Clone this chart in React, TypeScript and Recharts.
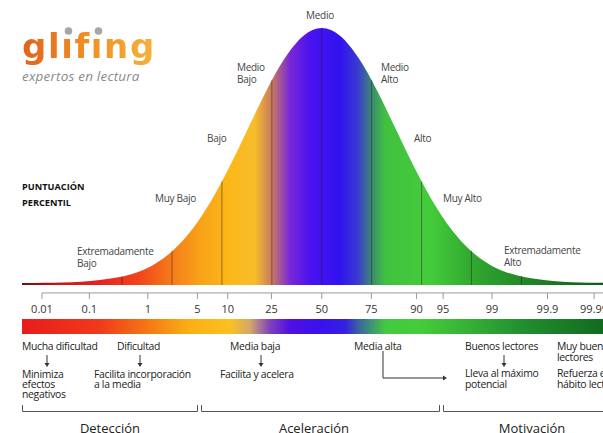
import React from 'react';
import { ComposedChart, Area, XAxis, YAxis, ReferenceLine, ReferenceArea } from 'recharts';

// Standardised score (z) positions along the curve and the curve height (% of peak)
const zValues = [-4.05, -3.75, -3.5, -3.25, -3, -2.75, -2.5, -2.25, -2, -1.75, -1.5, -1.25, -1, -0.75, -0.5, -0.25, 0, 0.25, 0.5, 0.75, 1, 1.25, 1.5, 1.75, 2, 2.25, 2.5, 2.75, 3, 3.25, 3.5, 3.75, 3.8];
const curveHeights = [0.8, 0.9, 1.0, 1.3, 1.9, 3.0, 4.9, 8.3, 13.7, 21.7, 32.5, 45.8, 60.7, 75.5, 88.2, 96.9, 100, 96.9, 88.2, 75.5, 60.7, 45.8, 32.5, 21.7, 13.7, 8.3, 4.9, 3.0, 1.9, 1.3, 1.0, 0.9, 0.85];

// Band dividers inside the curve
const bandEdges = [-2.698, -2.023, -1.349, -0.674, 0, 0.674, 1.349, 2.023, 2.698];
const bandEdgeHeights = [3.4, 13.3, 40.3, 79.7, 100, 79.7, 40.3, 13.3, 3.4];

// Percentile axis
const percentileLabels = ['0.01', '0.1', '1', '5', '10', '25', '50', '75', '90', '95', '99', '99.9', '99.99'];
const percentileTickZ = [-3.78, -3.14, -2.35, -1.68, -1.27, -0.68, 0, 0.67, 1.28, 1.64, 2.3, 3.05, 3.68];

const data = zValues.map((z, i) => ({ z, h: curveHeights[i] }));

const FONT = '"Open Sans", "DejaVu Sans", sans-serif';

const curveStops: [number, string][] = [
  [0, '#6e0e12'], [0.065, '#c41a1a'], [0.134, '#e8221e'], [0.203, '#f0461a'], [0.258, '#f57c1a'],
  [0.306, '#f8a218'], [0.358, '#fbb818'], [0.401, '#f7bc2c'], [0.43, '#c87a60'], [0.461, '#7a28d8'],
  [0.496, '#4a12f0'], [0.547, '#3212f0'], [0.578, '#3a3ad0'], [0.602, '#3a8a70'], [0.625, '#42c040'],
  [0.702, '#44cc3a'], [0.771, '#32aa30'], [0.857, '#238a28'], [1, '#0f5a1a'],
];
const barStops: [number, string][] = [
  [0, '#e81c1c'], [0.134, '#f03a1a'], [0.220, '#f57a15'], [0.289, '#fab015'], [0.358, '#fcc020'],
  [0.392, '#d4a868'], [0.427, '#8040c0'], [0.461, '#5010e0'], [0.513, '#3a10f0'], [0.556, '#3520e0'],
  [0.582, '#3a6a9a'], [0.625, '#44c840'], [0.685, '#45cc3a'], [0.771, '#35b035'], [0.857, '#229030'], [1, '#126a1f'],
];

const PercentileTick = (props: any) => {
  const { x, y, payload } = props;
  const idx = percentileTickZ.indexOf(payload.value);
  return (
    <g>
      <line x1={x} x2={x} y1={y + 8} y2={y + 14} stroke="#9a9a9a" strokeWidth={1} />
      <text x={x} y={y + 28} textAnchor="middle" fontSize={11} fill="#333" style={{ fontFamily: FONT }}>
        {percentileLabels[idx]}
      </text>
    </g>
  );
};

const Txt = ({ x, y, children, size = 10, color = '#444', weight = 400, center = false, lh = 11.5, ls = -0.3 }: any) => (
  <div
    style={{
      position: 'absolute', left: center ? x - 100 : x, top: y, width: center ? 200 : undefined,
      textAlign: center ? 'center' : 'left', fontSize: size, color, fontWeight: weight, lineHeight: lh + 'px',
      whiteSpace: 'pre', fontFamily: FONT, letterSpacing: ls,
    }}
  >
    {children}
  </div>
);

const DownArrow = ({ x, y1, y2 }: any) => (
  <g>
    <line x1={x} x2={x} y1={y1} y2={y2 - 3} stroke="#333" strokeWidth={1} />
    <polygon points={`${x - 2.5},${y2 - 4} ${x + 2.5},${y2 - 4} ${x},${y2}`} fill="#333" />
  </g>
);

export default function App() {
  return (
    <div style={{ position: 'absolute', left: 0, top: 0, width: 603, height: 433, overflow: 'hidden', background: '#fff' }}>
      <ComposedChart width={603} height={433} data={data} margin={{ top: 28, right: 0, left: 22, bottom: 118 }}>
        <defs>
          <linearGradient id="curveGrad" gradientUnits="userSpaceOnUse" x1={22} y1={0} x2={603} y2={0}>
            {curveStops.map(([o, c]) => <stop key={o} offset={o} stopColor={c} />)}
          </linearGradient>
          <linearGradient id="barGrad" gradientUnits="userSpaceOnUse" x1={22} y1={0} x2={603} y2={0}>
            {barStops.map(([o, c]) => <stop key={o} offset={o} stopColor={c} />)}
          </linearGradient>
        </defs>
        <XAxis
          dataKey="z" type="number" domain={[-4.05, 3.8]} ticks={percentileTickZ} interval={0}
          axisLine={false} tickLine={false} tickSize={0} tickMargin={0} height={30}
          tick={<PercentileTick />} allowDataOverflow
        />
        <YAxis type="number" domain={[0, 100]} hide allowDataOverflow />
        <Area type="monotone" dataKey="h" stroke="none" fill="url(#curveGrad)" fillOpacity={1} isAnimationActive={false} />
        {bandEdges.map((e, i) => (
          <ReferenceLine
            key={e}
            segment={[{ x: e, y: 0 }, { x: e, y: bandEdgeHeights[i] }]}
            stroke="rgba(40,20,30,0.45)" strokeWidth={1} ifOverflow="visible"
          />
        ))}
        <ReferenceLine
          segment={[{ x: percentileTickZ[0], y: -3.1 }, { x: 3.8, y: -3.1 }]}
          stroke="#9a9a9a" strokeWidth={1} ifOverflow="visible"
        />
        <ReferenceArea x1={-4.05} x2={3.8} y1={-13.2} y2={-19.1} fill="url(#barGrad)" fillOpacity={1} stroke="none" ifOverflow="visible" />
      </ComposedChart>

      {/* overlay decorations */}
      <svg width={603} height={433} style={{ position: 'absolute', left: 0, top: 0, pointerEvents: 'none' }}>
        <circle cx={68.5} cy={31} r={3.8} fill="#a6a6a6" />
        <circle cx={98.5} cy={31} r={3.8} fill="#a6a6a6" />
        <DownArrow x={47} y1={355} y2={367} />
        <DownArrow x={140} y1={355} y2={367} />
        <DownArrow x={261} y1={355} y2={367} />
        <DownArrow x={504} y1={355} y2={367} />
        <polyline points="383,351 383,378 444,378" fill="none" stroke="#333" strokeWidth={1} />
        <polygon points="443,375.5 443,380.5 447,378" fill="#333" />
        <polyline points="22.5,405 22.5,411.5 197.5,411.5 197.5,405" fill="none" stroke="#555" strokeWidth={1} />
        <polyline points="201.5,405 201.5,411.5 439.5,411.5 439.5,405" fill="none" stroke="#555" strokeWidth={1} />
        <polyline points="443.5,405 443.5,411.5 610,411.5" fill="none" stroke="#555" strokeWidth={1} />
      </svg>

      {/* logo */}
      <div
        style={{
          position: 'absolute', left: 22, top: 26, fontFamily: '"DejaVu Sans", sans-serif', fontWeight: 700,
          fontSize: 34, lineHeight: '40px', letterSpacing: 1.6, whiteSpace: 'pre',
          background: 'linear-gradient(90deg, #e2621a 0%, #f08c22 45%, #f6b23a 100%)',
          WebkitBackgroundClip: 'text', backgroundClip: 'text', color: 'transparent',
        }}
      >
        glıfıng
      </div>
      <Txt x={22} y={67} size={13.5} color="#8a8a8a" lh={18} ls={0.2}><i>expertos en lectura</i></Txt>

      {/* y caption */}
      <Txt x={22} y={179} size={9.2} color="#111" weight={700} lh={16} ls={0}>{'PUNTUACIÓN\nPERCENTIL'}</Txt>

      {/* level labels */}
      <Txt x={320} y={10} center>Medio</Txt>
      <Txt x={237} y={62}>{'Medio\nBajo'}</Txt>
      <Txt x={207} y={133}>Bajo</Txt>
      <Txt x={155} y={193}>Muy Bajo</Txt>
      <Txt x={77} y={246}>{'Extremadamente\nBajo'}</Txt>
      <Txt x={381} y={62}>{'Medio\nAlto'}</Txt>
      <Txt x={414} y={133}>Alto</Txt>
      <Txt x={443} y={193}>Muy Alto</Txt>
      <Txt x={504} y={245}>{'Extremadamente\nAlto'}</Txt>

      {/* bottom annotations */}
      <Txt x={22} y={341} size={10.4} color="#222" lh={10}>Mucha dificultad</Txt>
      <Txt x={22} y={369} size={10.4} color="#222" lh={10}>{'Minimiza\nefectos\nnegativos'}</Txt>
      <Txt x={117} y={341} size={10.4} color="#222" lh={10}>Dificultad</Txt>
      <Txt x={94} y={369} size={10.4} color="#222" lh={10}>{'Facilita incorporación\na la media'}</Txt>
      <Txt x={230} y={341} size={10.4} color="#222" lh={10}>Media baja</Txt>
      <Txt x={220} y={369} size={10.4} color="#222" lh={10}>Facilita y acelera</Txt>
      <Txt x={354} y={341} size={10.4} color="#222" lh={10}>Media alta</Txt>
      <Txt x={465} y={341} size={10.4} color="#222" lh={10}>Buenos lectores</Txt>
      <Txt x={465} y={368} size={10.4} color="#222" lh={10.5}>{'Lleva al máximo\npotencial'}</Txt>
      <Txt x={557} y={341} size={10.4} color="#222" lh={10.5}>{'Muy buenos\nlectores'}</Txt>
      <Txt x={557} y={368} size={10.4} color="#222" lh={10.5}>{'Refuerza el\nhábito lector'}</Txt>

      <Txt x={110} y={419} center size={13} color="#222" lh={18} ls={0}>Detección</Txt>
      <Txt x={314} y={419} center size={13} color="#222" lh={18} ls={0}>Aceleración</Txt>
      <Txt x={532} y={419} center size={13} color="#222" lh={18} ls={0}>Motivación</Txt>
    </div>
  );
}
